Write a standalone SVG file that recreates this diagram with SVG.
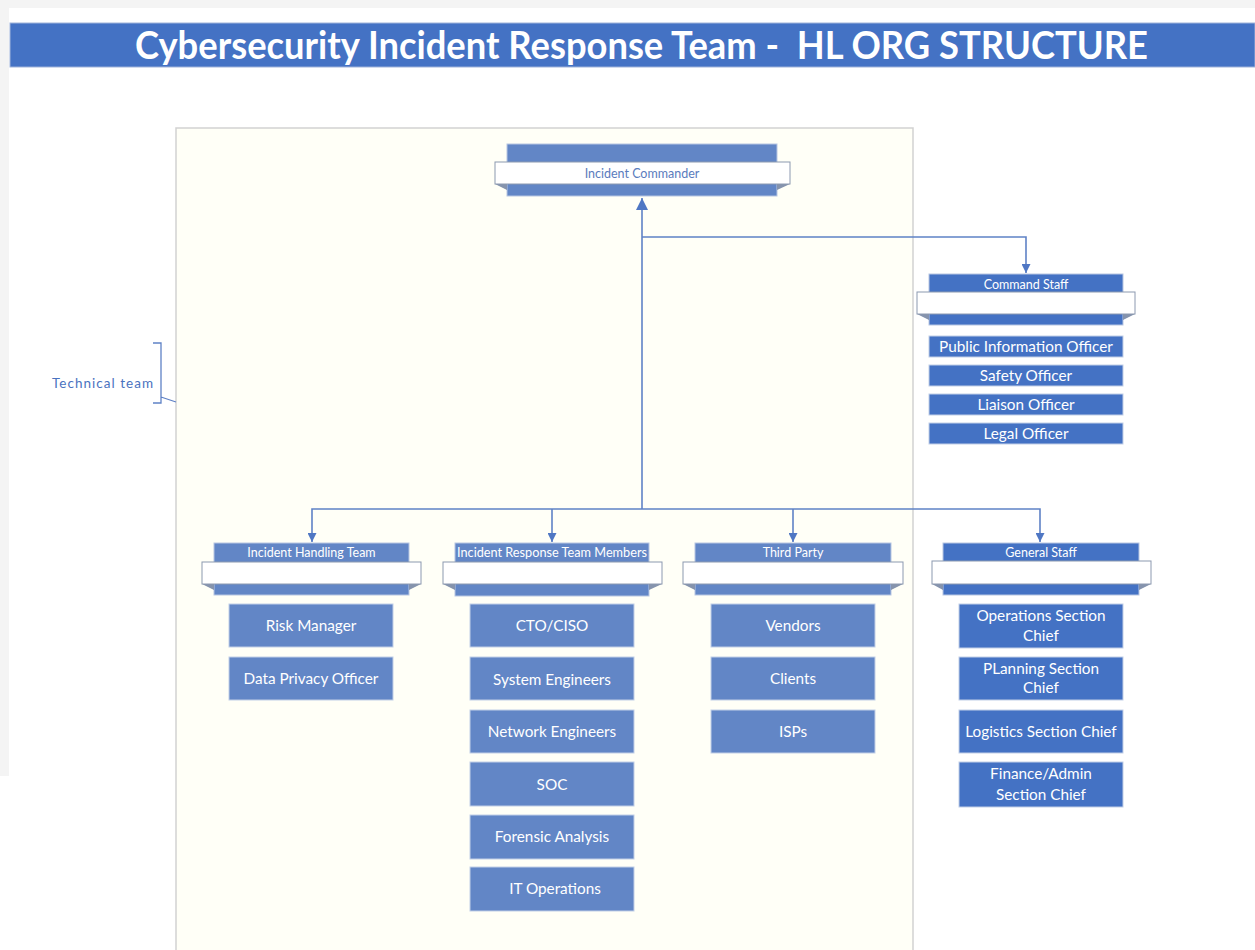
<svg xmlns="http://www.w3.org/2000/svg" width="1255" height="950" viewBox="0 0 1255 950">
  <defs>
    <style>
      .page { fill: #ffffff; }
      .frame { fill: #fffff7; stroke: #d2d2d2; stroke-width: 1.5; }
      .title { font-family: Lato, "Open Sans", sans-serif; font-weight: bold; font-size: 39px; fill: #ffffff; white-space: pre; }
      .hdr-lt { fill: #6286c6; stroke: #b7c6e2; stroke-width: 1; }
      .hdr-dk { fill: #4472c4; stroke: #b7c6e2; stroke-width: 1; }
      .ribbon { fill: #ffffff; stroke: #8c99b0; stroke-width: 1; }
      .fold { fill: #8593ad; }
      .box-lt { fill: #6286c6; stroke: #c2cfe7; stroke-width: 1; }
      .box-dk { fill: #4472c4; stroke: #c2cfe7; stroke-width: 1; }
      .hlabel { font-family: Lato, "Open Sans", sans-serif; font-size: 12.5px; fill: #ffffff; text-anchor: middle; }
      .rlabel { font-family: Lato, "Open Sans", sans-serif; font-size: 12.5px; fill: #5a7cbd; text-anchor: middle; }
      .blabel { font-family: Lato, "Open Sans", sans-serif; font-size: 15.3px; fill: #ffffff; text-anchor: middle; }
      .side { font-family: Lato, "Open Sans", sans-serif; font-size: 13.5px; fill: #4a72c0; }
      .conn { fill: none; stroke: #5f82c6; stroke-width: 1.6; }
      .brk { fill: none; stroke: #5f82c6; stroke-width: 1.3; }
    </style>
    <marker id="arrow" viewBox="0 0 10 10" refX="10" refY="5" markerWidth="9" markerHeight="9" markerUnits="userSpaceOnUse" orient="auto">
      <path d="M0,0 L10,5 L0,10 Z" fill="#4f77c4"/>
    </marker>
    <marker id="arrowUp" viewBox="0 0 10 10" refX="10" refY="5" markerWidth="12" markerHeight="12" markerUnits="userSpaceOnUse" orient="auto">
      <path d="M0,0 L10,5 L0,10 Z" fill="#4f77c4"/>
    </marker>
  </defs>

  <!-- canvas -->
  <rect x="0" y="0" width="1255" height="950" fill="#f4f4f4"/>
  <rect class="page" x="9" y="8" width="1246" height="942"/>
  <rect x="0" y="776" width="9" height="174" fill="#ffffff"/>

  <!-- title banner -->
  <g id="title">
    <rect x="10" y="23" width="1245" height="44" fill="#4472c4" stroke="#9fb3da" stroke-width="1"/>
    <text class="title" x="135" y="59" textLength="1013" lengthAdjust="spacingAndGlyphs" xml:space="preserve">Cybersecurity Incident Response Team -  HL ORG STRUCTURE</text>
  </g>

  <!-- technical team area -->
  <rect id="technical-area" class="frame" x="176" y="128" width="737" height="830"/>

  <g id="technical-team-label">
    <text class="side" x="52" y="388" textLength="101" lengthAdjust="spacing">Technical team</text>
    <path class="brk" d="M153,343 H161 V403 H153 M161,397 L176,402"/>
  </g>

  <!-- connectors -->
  <g id="connectors">
    <path class="conn" d="M642,509 V198" marker-end="url(#arrowUp)"/>
    <path class="conn" d="M642,237 H1026 V273" marker-end="url(#arrow)"/>
    <path class="conn" d="M642,509 H312 V542" marker-end="url(#arrow)"/>
    <path class="conn" d="M552,509 V542" marker-end="url(#arrow)"/>
    <path class="conn" d="M642,509 H1040 V542" marker-end="url(#arrow)"/>
    <path class="conn" d="M793,509 V542" marker-end="url(#arrow)"/>
  </g>

  <!-- Incident Commander -->
  <g id="incident-commander">
    <rect class="hdr-lt" x="507" y="144" width="270" height="52"/>
    <polygon class="fold" points="495,184 507,190 507,184"/>
    <polygon class="fold" points="790,184 777,190 777,184"/>
    <rect class="ribbon" x="495" y="162" width="295" height="22"/>
    <text class="rlabel" x="642" y="177.5">Incident Commander</text>
  </g>

  <!-- Command Staff -->
  <g id="command-staff">
    <rect class="hdr-dk" x="929" y="274" width="194" height="51"/>
    <text class="hlabel" x="1026" y="288.5">Command Staff</text>
    <polygon class="fold" points="917,314 929,320 929,314"/>
    <polygon class="fold" points="1135,314 1123,320 1123,314"/>
    <rect class="ribbon" x="917" y="292" width="218" height="22"/>
  </g>
  <g id="public-information-officer">
    <rect class="box-dk" x="929" y="336" width="194" height="21"/>
    <text class="blabel" x="1026" y="352">Public Information Officer</text>
  </g>
  <g id="safety-officer">
    <rect class="box-dk" x="929" y="365" width="194" height="21"/>
    <text class="blabel" x="1026" y="381">Safety Officer</text>
  </g>
  <g id="liaison-officer">
    <rect class="box-dk" x="929" y="394" width="194" height="21"/>
    <text class="blabel" x="1026" y="410">Liaison Officer</text>
  </g>
  <g id="legal-officer">
    <rect class="box-dk" x="929" y="423" width="194" height="21"/>
    <text class="blabel" x="1026" y="439">Legal Officer</text>
  </g>

  <!-- Incident Handling Team -->
  <g id="incident-handling-team">
    <rect class="hdr-lt" x="214" y="543" width="195" height="52"/>
    <text class="hlabel" x="311.5" y="557">Incident Handling Team</text>
    <polygon class="fold" points="202,584 214,590 214,584"/>
    <polygon class="fold" points="421,584 409,590 409,584"/>
    <rect class="ribbon" x="202" y="562" width="219" height="22"/>
  </g>
  <g id="risk-manager">
    <rect class="box-lt" x="229" y="604" width="164" height="43"/>
    <text class="blabel" x="311" y="631">Risk Manager</text>
  </g>
  <g id="data-privacy-officer">
    <rect class="box-lt" x="229" y="657" width="164" height="43"/>
    <text class="blabel" x="311" y="684">Data Privacy Officer</text>
  </g>

  <!-- Incident Response Team Members -->
  <g id="incident-response-team-members">
    <rect class="hdr-lt" x="455" y="543" width="194" height="53"/>
    <text class="hlabel" x="552" y="557" textLength="190" lengthAdjust="spacingAndGlyphs">Incident Response Team Members</text>
    <polygon class="fold" points="443,584 455,590 455,584"/>
    <polygon class="fold" points="662,584 649,590 649,584"/>
    <rect class="ribbon" x="443" y="562" width="219" height="22"/>
  </g>
  <g id="cto-ciso">
    <rect class="box-lt" x="470" y="604" width="164" height="43"/>
    <text class="blabel" x="552" y="631">CTO/CISO</text>
  </g>
  <g id="system-engineers">
    <rect class="box-lt" x="470" y="657" width="164" height="43"/>
    <text class="blabel" x="552" y="685">System Engineers</text>
  </g>
  <g id="network-engineers">
    <rect class="box-lt" x="470" y="710" width="164" height="43"/>
    <text class="blabel" x="552" y="736.5">Network Engineers</text>
  </g>
  <g id="soc">
    <rect class="box-lt" x="470" y="762" width="164" height="44"/>
    <text class="blabel" x="552" y="789.5">SOC</text>
  </g>
  <g id="forensic-analysis">
    <rect class="box-lt" x="470" y="815" width="164" height="44"/>
    <text class="blabel" x="552" y="842">Forensic Analysis</text>
  </g>
  <g id="it-operations">
    <rect class="box-lt" x="470" y="867" width="164" height="44"/>
    <text class="blabel" x="555" y="894">IT Operations</text>
  </g>

  <!-- Third Party -->
  <g id="third-party">
    <rect class="hdr-lt" x="695" y="543" width="196" height="52"/>
    <text class="hlabel" x="793" y="557">Third Party</text>
    <polygon class="fold" points="683,584 695,590 695,584"/>
    <polygon class="fold" points="903,584 891,590 891,584"/>
    <rect class="ribbon" x="683" y="562" width="220" height="22"/>
  </g>
  <g id="vendors">
    <rect class="box-lt" x="711" y="604" width="164" height="43"/>
    <text class="blabel" x="793" y="631">Vendors</text>
  </g>
  <g id="clients">
    <rect class="box-lt" x="711" y="657" width="164" height="43"/>
    <text class="blabel" x="793" y="684">Clients</text>
  </g>
  <g id="isps">
    <rect class="box-lt" x="711" y="710" width="164" height="43"/>
    <text class="blabel" x="793" y="736.5">ISPs</text>
  </g>

  <!-- General Staff -->
  <g id="general-staff">
    <rect class="hdr-dk" x="943" y="543" width="196" height="52"/>
    <text class="hlabel" x="1041" y="557">General Staff</text>
    <polygon class="fold" points="932,584 943,590 943,584"/>
    <polygon class="fold" points="1151,584 1139,590 1139,584"/>
    <rect class="ribbon" x="932" y="561" width="219" height="23"/>
  </g>
  <g id="operations-section-chief">
    <rect class="box-dk" x="959" y="604" width="164" height="44"/>
    <text class="blabel" x="1041" y="621">Operations Section</text>
    <text class="blabel" x="1041" y="640.5">Chief</text>
  </g>
  <g id="planning-section-chief">
    <rect class="box-dk" x="959" y="657" width="164" height="43"/>
    <text class="blabel" x="1041" y="673.5">PLanning Section</text>
    <text class="blabel" x="1041" y="693">Chief</text>
  </g>
  <g id="logistics-section-chief">
    <rect class="box-dk" x="959" y="710" width="164" height="43"/>
    <text class="blabel" x="1041" y="736.5">Logistics Section Chief</text>
  </g>
  <g id="finance-admin-section-chief">
    <rect class="box-dk" x="959" y="762" width="164" height="45"/>
    <text class="blabel" x="1041" y="779">Finance/Admin</text>
    <text class="blabel" x="1041" y="799.5">Section Chief</text>
  </g>
</svg>
